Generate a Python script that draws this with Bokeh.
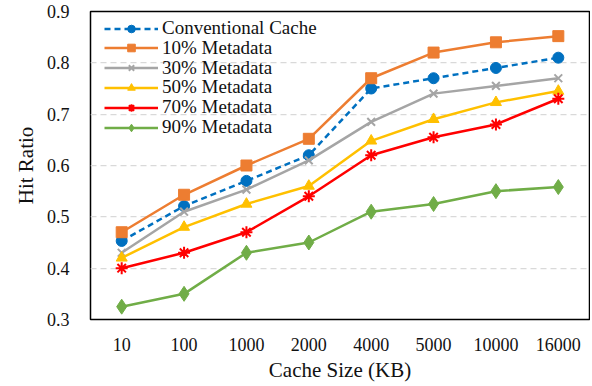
from bokeh.plotting import figure
from bokeh.models import FixedTicker, Legend, LegendItem
from bokeh.embed import file_html
from bokeh.resources import INLINE

cache_sizes = ["10", "100", "1000", "2000", "4000", "5000", "10000", "16000"]
conventional = [0.453, 0.521, 0.570, 0.620, 0.750, 0.770, 0.790, 0.810]
meta10 = [0.470, 0.543, 0.600, 0.652, 0.770, 0.820, 0.840, 0.852]
meta30 = [0.430, 0.510, 0.553, 0.610, 0.685, 0.740, 0.755, 0.770]
meta50 = [0.420, 0.480, 0.525, 0.560, 0.648, 0.690, 0.723, 0.745]
meta70 = [0.400, 0.430, 0.470, 0.540, 0.620, 0.655, 0.680, 0.730]
meta90 = [0.325, 0.350, 0.430, 0.450, 0.510, 0.525, 0.550, 0.558]
y_ticks = [0.3, 0.4, 0.5, 0.6, 0.7, 0.8, 0.9]

FONT = "Liberation Serif"

p = figure(x_range=cache_sizes, y_range=(0.3, 0.9), width=590, height=384,
           output_backend="svg", toolbar_location=None,
           min_border_left=90, min_border_right=1, min_border_top=11, min_border_bottom=61)

p.outline_line_color = "black"
p.outline_line_width = 1.5
p.background_fill_color = "white"
p.border_fill_color = "white"

p.xgrid.grid_line_color = None
p.ygrid.grid_line_color = "#D9D9D9"
p.ygrid.grid_line_dash = "6 4"
p.ygrid.grid_line_width = 1.25
p.yaxis.ticker = FixedTicker(ticks=y_ticks)

for ax in (p.xaxis, p.yaxis):
    ax.axis_line_color = None
    ax.major_tick_line_color = None
    ax.minor_tick_line_color = None
    ax.major_label_text_font = FONT
    ax.major_label_text_font_size = "18px"
    ax.major_label_text_color = "#111111"
    ax.axis_label_text_font = FONT
    ax.axis_label_text_font_size = "21px"
    ax.axis_label_text_font_style = "normal"
    ax.axis_label_text_color = "#111111"

p.yaxis.major_label_standoff = 15
p.xaxis.major_label_standoff = 12
p.yaxis.axis_label = "Hit Ratio"
p.xaxis.axis_label = "Cache Size (KB)"
p.yaxis.axis_label_standoff = 6
p.xaxis.axis_label_standoff = 4

series = [
    ("Conventional Cache", conventional, "#0070C0", "circle", 11, "6 4"),
    ("10% Metadata", meta10, "#ED7D31", "square", 11, "solid"),
    ("30% Metadata", meta30, "#A5A5A5", "x", 11, "solid"),
    ("50% Metadata", meta50, "#FFC000", "triangle", 11, "solid"),
    ("70% Metadata", meta70, "#FF0000", "asterisk", 12, "solid"),
    ("90% Metadata", meta90, "#70AD47", "diamond", 15, "solid"),
]

ROW_PITCH = 19.8
FIRST_ROW = 280  # legend-bottom offset from frame bottom for the first entry

for i, (label, vals, color, marker, size, dash) in enumerate(series):
    r1 = p.line(cache_sizes, vals, line_color=color, line_width=2.5, line_dash=dash)
    r2 = p.scatter(cache_sizes, vals, marker=marker, size=size, fill_color=color,
                   line_color=color, line_width=2 if marker in ("x", "asterisk") else 1)
    lg = Legend(items=[LegendItem(label=label, renderers=[r1, r2])],
                location=(14, FIRST_ROW - i * ROW_PITCH))
    lg.border_line_color = None
    lg.background_fill_alpha = 0
    lg.label_text_font = FONT
    lg.label_text_font_size = "19px"
    lg.label_text_color = "#111111"
    lg.glyph_width = 54
    lg.glyph_height = 19
    lg.label_height = 19
    lg.padding = 0
    lg.margin = 0
    lg.label_standoff = 4
    p.add_layout(lg, "center")

open("out.html", "w").write(file_html(p, INLINE))
